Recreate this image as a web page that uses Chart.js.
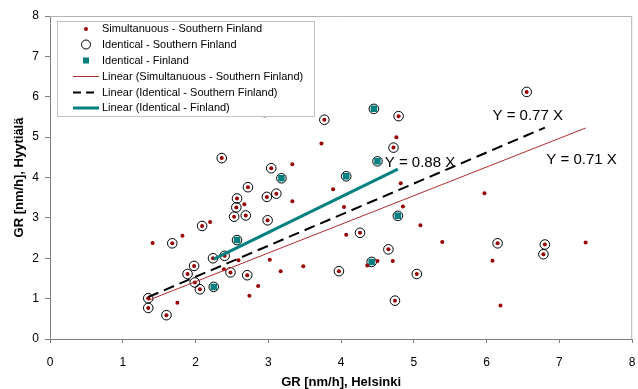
<!DOCTYPE html>
<html>
<head>
<meta charset="utf-8">
<script src="https://cdn.jsdelivr.net/npm/chart.js@4"></script>
<style>
  html, body { margin: 0; padding: 0; background: #fff; }
  #wrap { width: 638px; height: 389px; }
</style>
</head>
<body>
<div id="wrap"><canvas id="grChart"></canvas></div>
<script>
// ---- data ----
// Simultanuous - Southern Finland (all red dots)
const simX = [1.35, 1.35, 1.60, 1.41, 1.68, 1.75, 1.82, 1.89, 1.98, 1.99, 2.06, 2.09, 2.20, 2.24, 2.40,
  2.39, 2.48, 2.59, 2.71, 2.74, 2.86, 3.02, 3.17, 3.48, 2.99, 2.53, 2.69, 2.56, 2.67, 2.57,
  2.72, 2.98, 3.11, 3.33, 2.36, 3.04, 3.33, 3.89, 3.73, 3.77, 4.79, 4.76, 4.72, 4.82, 4.04,
  4.85, 5.09, 4.26, 4.07, 5.39, 4.65, 4.50, 4.36, 4.71, 3.97, 5.04, 4.74, 5.97, 6.55, 6.15,
  6.08, 6.80, 6.78, 7.36, 6.19, 2.95];
const simY = [1.01, 0.77, 0.59, 2.38, 2.37, 0.90, 2.56, 1.61, 1.81, 1.40, 1.23, 2.80, 2.90, 2.00, 2.06,
  1.73, 1.65, 1.95, 1.58, 1.07, 1.31, 1.96, 1.68, 1.80, 2.94, 3.03, 3.06, 3.26, 3.34, 3.48,
  3.76, 3.52, 3.60, 3.41, 4.48, 4.23, 4.33, 3.71, 4.84, 5.43, 5.52, 5.00, 4.74, 3.86, 3.27,
  3.28, 2.82, 2.63, 2.58, 2.40, 2.22, 1.93, 1.82, 1.93, 1.68, 1.61, 0.95, 3.61, 6.12, 2.37,
  1.94, 2.34, 2.10, 2.39, 0.83, 5.62];

// Identical - Southern Finland (open circles)
const idsX = [1.35, 1.35, 1.60, 1.68, 1.89, 1.98, 1.99, 2.06, 2.09, 2.24, 2.40, 2.48, 2.71, 2.99, 2.53,
  2.69, 2.56, 2.57, 2.72, 2.98, 3.11, 2.36, 3.04, 3.77, 4.79, 4.72, 4.26, 4.65, 3.97, 5.04,
  4.74, 6.55, 6.15, 6.80, 6.78, 2.95,
  2.25, 2.57, 3.18, 4.07, 4.45, 4.50, 4.78, 4.42];
const idsY = [1.01, 0.77, 0.59, 2.37, 1.61, 1.81, 1.40, 1.23, 2.80, 2.00, 2.06, 1.65, 1.58, 2.94, 3.03,
  3.06, 3.26, 3.48, 3.76, 3.52, 3.60, 4.48, 4.23, 5.43, 5.52, 4.74, 2.63, 2.22, 1.68, 1.61,
  0.95, 6.12, 2.37, 2.34, 2.10, 5.62,
  1.29, 2.45, 3.98, 4.03, 5.70, 4.40, 3.05, 1.91];

// Identical - Finland (teal squares)
const idfX = [2.25, 2.57, 3.18, 4.07, 4.45, 4.50, 4.78, 4.42];
const idfY = [1.29, 2.45, 3.98, 4.03, 5.70, 4.40, 3.05, 1.91];

// trend line slopes (Y = k X) and where their labels sit (data units)
const slopes = [0.71, 0.77, 0.88];
const slopeLabels = ["Y = 0.71 X", "Y = 0.77 X", "Y = 0.88 X"];
const labelX = [6.82, 6.08, 4.60];
const labelY = [4.43, 5.52, 4.36];

const axisTicks = [0, 1, 2, 3, 4, 5, 6, 7, 8];

const FONT = "'Liberation Sans', Arial, sans-serif";
const RED = "#990000";
const RED_LINE = "#b02a2a";
const TEAL = "#008080";

function toPoints(xs, ys) {
  return xs.map((x, i) => ({ x: x, y: ys[i] }));
}

function trend(xs, k) {
  const lo = Math.min(...xs), hi = Math.max(...xs);
  return [{ x: lo, y: k * lo }, { x: hi, y: k * hi }];
}

/* ================================
   Plugin: plot frame, legend, labels
================================ */
const framePlugin = {
  id: "frame",
  beforeDatasetsDraw(chart) {
    const { ctx, chartArea: a } = chart;
    ctx.save();
    ctx.strokeStyle = "#b4b4b4";
    ctx.lineWidth = 1;
    ctx.beginPath();
    ctx.moveTo(a.left, a.top + 0.5);
    ctx.lineTo(a.right - 0.5, a.top + 0.5);
    ctx.lineTo(a.right - 0.5, a.bottom);
    ctx.stroke();
    ctx.restore();
  },
  afterDatasetsDraw(chart) {
    const { ctx } = chart;
    const xs = chart.scales.x, ys = chart.scales.y;
    ctx.save();

    // slope labels
    ctx.font = "15px " + FONT;
    ctx.fillStyle = "#000";
    ctx.textBaseline = "middle";
    ctx.textAlign = "left";
    slopeLabels.forEach((t, i) => {
      ctx.fillText(t, xs.getPixelForValue(labelX[i]), ys.getPixelForValue(labelY[i]));
    });

    // legend box
    const bx = 57, by = 21, bw = 257, bh = 95;
    ctx.fillStyle = "#fff";
    ctx.fillRect(bx, by, bw, bh);
    ctx.strokeStyle = "#c0c0c0";
    ctx.lineWidth = 1;
    ctx.strokeRect(bx + 0.5, by + 0.5, bw, bh);

    const rows = [29, 44.5, 60.5, 76.5, 92.5, 108];
    const names = chart.data.datasets.map(d => d.label);
    const mx = 86;
    ctx.font = "11px " + FONT;
    ctx.fillStyle = "#000";
    names.forEach((n, i) => ctx.fillText(n, 102, rows[i]));

    // symbols
    ctx.fillStyle = RED;
    ctx.beginPath(); ctx.arc(mx, rows[0], 2, 0, Math.PI * 2); ctx.fill();
    ctx.strokeStyle = "#000";
    ctx.beginPath(); ctx.arc(mx, rows[1], 4.5, 0, Math.PI * 2); ctx.stroke();
    ctx.fillStyle = TEAL;
    ctx.fillRect(mx - 3, rows[2] - 3, 6, 6);

    ctx.strokeStyle = RED_LINE; ctx.lineWidth = 1;
    ctx.beginPath(); ctx.moveTo(73, rows[3]); ctx.lineTo(99, rows[3]); ctx.stroke();
    ctx.strokeStyle = "#000"; ctx.lineWidth = 2;
    ctx.setLineDash([8, 5]);
    ctx.beginPath(); ctx.moveTo(73, rows[4]); ctx.lineTo(99, rows[4]); ctx.stroke();
    ctx.setLineDash([]);
    ctx.strokeStyle = TEAL; ctx.lineWidth = 3;
    ctx.beginPath(); ctx.moveTo(73, rows[5]); ctx.lineTo(99, rows[5]); ctx.stroke();
    ctx.restore();
  }
};

/* ================================
   Chart
================================ */
function axisOptions(titleText, isX) {
  return {
    type: "linear",
    min: 0,
    max: 8,
    afterBuildTicks(scale) {
      scale.ticks = axisTicks.map(v => ({ value: v }));
    },
    afterFit(scale) {
      if (isX) scale.height = 50; else scale.width = 50;
      scale.paddingLeft = 0;
      scale.paddingRight = 0;
      scale.paddingTop = 0;
      scale.paddingBottom = 0;
    },
    grid: {
      display: true,
      drawOnChartArea: false,
      drawTicks: true,
      tickLength: isX ? 4 : 5,
      color: "#808080"
    },
    border: { display: true, color: "#808080", width: 1 },
    ticks: {
      color: "#000",
      font: { family: FONT, size: 12 },
      padding: isX ? 12 : 6
    },
    title: {
      display: true,
      text: titleText,
      color: "#000",
      font: { family: FONT, size: 13, weight: "bold", lineHeight: 1.0 },
      padding: isX ? { top: 0, bottom: 0 } : { top: 13, bottom: 0 }
    }
  };
}

function createChart() {
  const ctx = document.getElementById("grChart").getContext("2d");
  new Chart(ctx, {
    type: "scatter",
    data: {
      datasets: [
        {
          label: "Simultanuous - Southern Finland",
          data: toPoints(simX, simY),
          pointStyle: "circle",
          pointRadius: 2,
          backgroundColor: RED,
          borderColor: RED,
          borderWidth: 0,
          order: 1
        },
        {
          label: "Identical - Southern Finland",
          data: toPoints(idsX, idsY),
          pointStyle: "circle",
          pointRadius: 4.8,
          backgroundColor: "rgba(0,0,0,0)",
          borderColor: "#000",
          borderWidth: 1,
          order: 3
        },
        {
          label: "Identical - Finland",
          data: toPoints(idfX, idfY),
          pointStyle: "rect",
          pointRadius: 4.6,
          backgroundColor: TEAL,
          borderColor: TEAL,
          borderWidth: 0,
          order: 2
        },
        {
          label: "Linear (Simultanuous - Southern Finland)",
          data: trend(simX, slopes[0]),
          showLine: true,
          pointRadius: 0,
          borderColor: RED_LINE,
          borderWidth: 1,
          order: 0
        },
        {
          label: "Linear (Identical - Southern Finland)",
          data: trend(idsX, slopes[1]),
          showLine: true,
          pointRadius: 0,
          borderColor: "#000",
          borderWidth: 2,
          borderDash: [11, 6],
          order: 0
        },
        {
          label: "Linear (Identical - Finland)",
          data: trend(idfX, slopes[2]),
          showLine: true,
          pointRadius: 0,
          borderColor: TEAL,
          borderWidth: 3,
          order: 0
        }
      ]
    },
    options: {
      responsive: true,
      maintainAspectRatio: false,
      animation: false,
      layout: { padding: { top: 16, right: 4, left: 0, bottom: 0 } },
      plugins: {
        legend: { display: false },
        tooltip: { enabled: false }
      },
      scales: {
        x: axisOptions("GR [nm/h], Helsinki", true),
        y: axisOptions("GR [nm/h], Hyytiälä", false)
      }
    },
    plugins: [framePlugin]
  });
}

createChart();
</script>
</body>
</html>
